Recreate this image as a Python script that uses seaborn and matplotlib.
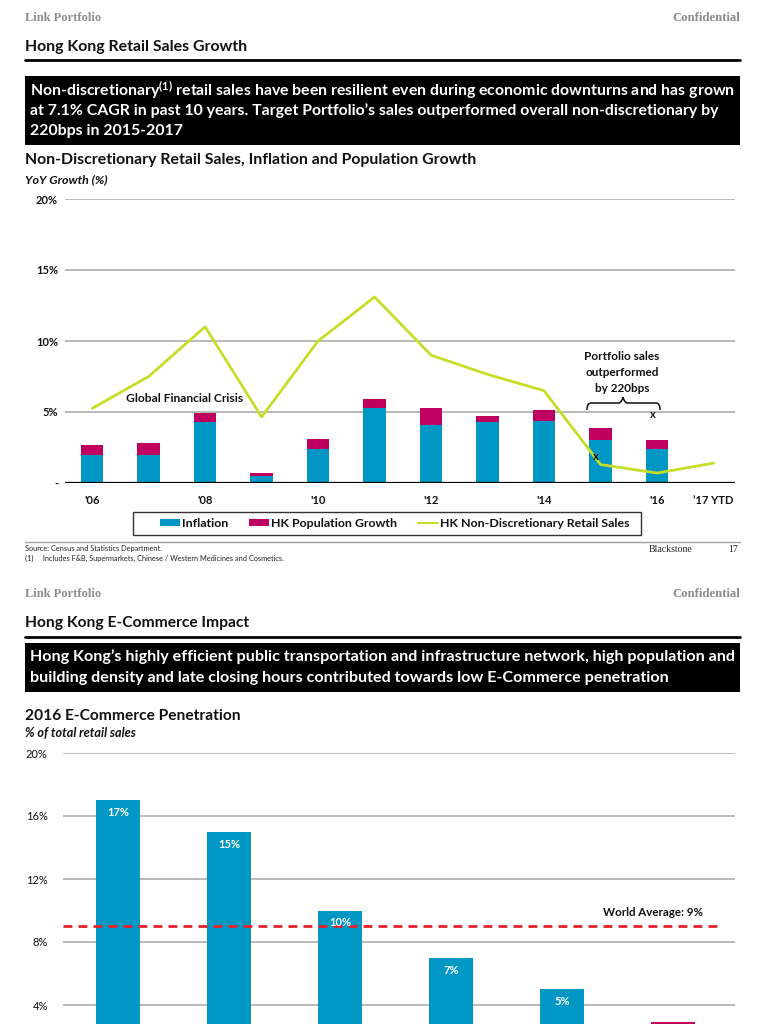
import numpy as np
import pandas as pd
import matplotlib
matplotlib.use("Agg")
import matplotlib.pyplot as plt
import seaborn as sns
from matplotlib.patches import Rectangle, Patch, PathPatch
from matplotlib.lines import Line2D
from matplotlib.path import Path

# ---------------- data ----------------
years = [2006, 2007, 2008, 2009, 2010, 2011, 2012, 2013, 2014, 2015, 2016, 2017]
inflation = [2.0, 2.0, 4.3, 0.5, 2.4, 5.3, 4.1, 4.3, 4.4, 3.0, 2.4, np.nan]
pop_growth = [0.65, 0.85, 0.6, 0.2, 0.7, 0.65, 1.2, 0.45, 0.75, 0.9, 0.6, np.nan]
retail_sales = [5.25, 7.5, 11.0, 4.65, 10.0, 13.1, 9.0, 7.65, 6.5, 1.3, 0.7, 1.4]
portfolio_years = [2015, 2016]
portfolio_sales = [1.9, 4.8]
tick_years = [2006, 2008, 2010, 2012, 2014, 2016, 2017]
tick_labels = ["'06", "'08", "'10", "'12", "'14", "'16", "\u201917 YTD"]
y1_ticks = [0, 5, 10, 15, 20]
y1_labels = ["-", "5%", "10%", "15%", "20%"]

countries = ["China", "UK", "South Korea", "US", "Japan", "Hong Kong"]
ecom_pen = [17, 15, 10, 7, 5, 2.9]
world_avg = 9
y2_ticks = [4, 8, 12, 16, 20]
y2_labels = ["4%", "8%", "12%", "16%", "20%"]

BLUE = "#0097C5"
PINK = "#C0005E"
LIME = "#C8DC28"
RED = "#E3222B"
GRID = "#A6A6A6"
INK = "#111111"

sns.set_theme(style="white")
SANS = ["Lato", "DejaVu Sans"]
SERIF = ["Liberation Serif", "DejaVu Serif"]
plt.rcParams["font.family"] = SANS
plt.rcParams["mathtext.fontset"] = "custom"
plt.rcParams["mathtext.rm"] = "Lato:bold"
plt.rcParams["mathtext.default"] = "rm"

W, H = 768, 1024
fig = plt.figure(figsize=(W / 100, H / 100), dpi=100)
fig.patch.set_facecolor("white")
renderer = fig.canvas.get_renderer()


def fx(x):
    return x / W


def fy(y):
    return 1 - y / H


def ftext(x, y, s, **kw):
    kw.setdefault("va", "center")
    return fig.text(fx(x), fy(y), s, **kw)


def fit(t, width_px):
    bb = t.get_window_extent(renderer)
    size = t.get_fontsize() * width_px / bb.width
    t.set_fontsize(size)
    return size


def size_for(s, width_px, **kw):
    t = fig.text(0, 0, s, fontsize=10, **kw)
    size = fit(t, width_px)
    t.remove()
    return size


def hline(y, x0=25, x1=740, **kw):
    fig.add_artist(Line2D([fx(x0), fx(x1)], [fy(y), fy(y)], transform=fig.transFigure, **kw))


def rect(x0, y0, x1, y1, **kw):
    fig.add_artist(Rectangle((fx(x0), fy(y1)), fx(x1) - fx(x0), fy(y0) - fy(y1),
                             transform=fig.transFigure, **kw))


def header(y, title):
    t = ftext(25, y, "Link Portfolio", family=SERIF, fontsize=8, color="#8C8C8C", fontweight="bold")
    fit(t, 75)
    t = ftext(740, y, "Confidential", family=SERIF, fontsize=8, color="#8C8C8C", fontweight="bold",
              ha="right")
    fit(t, 68)
    t = ftext(25, y + 29, title, fontsize=11, fontweight="bold", color=INK)
    fit(t, 223)


def box_lines(lines, y0, dy, first_width):
    sz = size_for(lines[0], first_width, fontweight="bold")
    for i, s in enumerate(lines):
        ftext(30, y0 + i * dy, s, fontsize=sz, fontweight="bold", color="white")


# ---------------- slide 1 ----------------
header(18, "Hong Kong Retail Sales Growth")
hline(60, color="black", lw=2)
rect(25, 76, 740, 145, facecolor="black", edgecolor="none")
box_lines(["Non-discretionary$^{(1)}$ retail sales have been resilient even during economic downturns and has grown",
           "at 7.1% CAGR in past 10 years. Target Portfolio\u2019s sales outperformed overall non-discretionary by",
           "220bps in 2015-2017"], 90, 20.5, 705)

t = ftext(25, 160, "Non-Discretionary Retail Sales, Inflation and Population Growth", fontsize=11,
          fontweight="bold", color=INK)
fit(t, 450)
t = ftext(25, 180, "YoY Growth (%)", fontsize=7.5, fontweight="bold", style="italic", color=INK)
fit(t, 82)

# ---------------- chart 1 ----------------
ax1 = fig.add_axes([fx(65), fy(483), fx(735) - fx(65), fy(199) - fy(483)])
df1 = pd.DataFrame({"year": years, "inflation": inflation,
                    "total": np.array(inflation) + np.array(pop_growth),
                    "retail": retail_sales})
sns.barplot(data=df1, x="year", y="total", native_scale=True, color=PINK, saturation=1,
            width=0.4, errorbar=None, linewidth=0, ax=ax1, zorder=2)
sns.barplot(data=df1, x="year", y="inflation", native_scale=True, color=BLUE, saturation=1,
            width=0.4, errorbar=None, linewidth=0, ax=ax1, zorder=3)
sns.lineplot(data=df1, x="year", y="retail", color=LIME, lw=2.0, ax=ax1, zorder=4)
for xv, yv in zip(portfolio_years, portfolio_sales):
    ax1.text(xv - 0.08, yv, "x", ha="center", va="center", fontsize=8, fontweight="bold",
             color=INK, zorder=5)

ax1.set_xlim(2005.52, 2017.38)
ax1.set_ylim(0, 20)
ax1.set_yticks(y1_ticks)
ax1.set_yticklabels(y1_labels)
ax1.set_xticks(tick_years)
ax1.set_xticklabels(tick_labels)
ax1.set_xlabel("")
ax1.set_ylabel("")
ax1.grid(axis="y", color=GRID, lw=1.1, zorder=0)
ax1.grid(axis="x", visible=False)
ax1.set_axisbelow(True)
ax1.axhline(0, color="black", lw=1.6, zorder=6)
for sp in ax1.spines.values():
    sp.set_visible(False)
ax1.tick_params(axis="both", length=0, labelsize=8)
ax1.tick_params(axis="y", pad=5)
ax1.tick_params(axis="x", pad=9)
for lab in ax1.get_xticklabels() + ax1.get_yticklabels():
    lab.set_fontweight("bold")
    lab.set_color(INK)

t = ftext(185, 399, "Global Financial Crisis", ha="center", fontsize=8, fontweight="bold", color=INK)
fit(t, 118)
psz = size_for("Portfolio sales", 75, fontweight="bold")
for i, s in enumerate(["Portfolio sales", "outperformed", "by 220bps"]):
    ftext(622, 356 + i * 16, s, ha="center", fontsize=psz, fontweight="bold", color=INK)

# curly brace (pixel coords -> figure)
bx0, bx1, bmid, by0, by1 = 587, 660, 623, 410, 397
verts = [(bx0, by0), (bx0, 403), (bx0 + 4, 403),
         (bmid - 4, 403), (bmid - 4, 403), (bmid - 1, 402), (bmid, by1),
         (bmid, by1), (bmid, by1), (bmid + 1, 402), (bmid + 4, 403),
         (bx1 - 4, 403), (bx1 - 4, 403), (bx1, 403), (bx1, by0)]
codes = [Path.MOVETO, Path.CURVE3, Path.CURVE3,
         Path.LINETO, Path.LINETO, Path.CURVE3, Path.CURVE3,
         Path.MOVETO, Path.LINETO, Path.CURVE3, Path.CURVE3,
         Path.LINETO, Path.LINETO, Path.CURVE3, Path.CURVE3]
fverts = [(fx(a), fy(b)) for a, b in verts]
fig.add_artist(PathPatch(Path(fverts, codes), transform=fig.transFigure, fill=False,
                         edgecolor=INK, lw=1.1))

# legend
lsz = size_for("HK Non-Discretionary Retail Sales", 190, fontweight="bold")
lpx = lsz * 100 / 72
rect(133, 512, 641, 535, facecolor="white", edgecolor="#333333", lw=1.0)
handles = [Patch(facecolor=BLUE, edgecolor="none"), Patch(facecolor=PINK, edgecolor="none"),
           Line2D([], [], color=LIME, lw=1.5)]
leg = fig.legend(handles, ["Inflation", "HK Population Growth", "HK Non-Discretionary Retail Sales"],
                 loc="center left", bbox_to_anchor=(fx(160), fy(523.5)), ncol=3, frameon=False,
                 handlelength=20 / lpx, handleheight=0.55, handletextpad=2 / lpx,
                 columnspacing=21 / lpx, borderpad=0, borderaxespad=0,
                 prop={"weight": "bold", "size": lsz})
for txt in leg.get_texts():
    txt.set_color(INK)

# footer
hline(542, color="#A0A0A0", lw=1)
ftext(25, 548, "Source: Census and Statistics Department.", fontsize=5.3, color="#222222")
ftext(25, 558, "(1)     Includes F&B, Supermarkets, Chinese / Western Medicines and Cosmetics.", fontsize=5.3,
      color="#222222")
ftext(692, 550, "Blackstone", family=SERIF, fontsize=7, color="#222222", ha="right")
ftext(738, 550, "17", family=SERIF, fontsize=7, color="#222222", ha="right")

# ---------------- slide 2 ----------------
header(594, "Hong Kong E-Commerce Impact")
hline(637, color="black", lw=2)
rect(25, 643, 740, 692, facecolor="black", edgecolor="none")
box_lines(["Hong Kong\u2019s highly efficient public transportation and infrastructure network, high population and",
           "building density and late closing hours contributed towards low E-Commerce penetration"],
          657, 21, 705)
t = ftext(25, 716, "2016 E-Commerce Penetration", fontsize=11, fontweight="bold", color=INK)
fit(t, 215)
t = ftext(25, 733, "% of total retail sales", fontsize=7.5, fontweight="bold", style="italic", color=INK)
fit(t, 110)

# ---------------- chart 2 ----------------
ax2 = fig.add_axes([fx(63), fy(1068), fx(735) - fx(63), fy(753) - fy(1068)])
df2 = pd.DataFrame({"country": countries, "pen": ecom_pen})
pal = [BLUE] * (len(countries) - 1) + [PINK]
sns.barplot(data=df2, x="country", y="pen", hue="country", palette=pal, legend=False,
            saturation=1, width=0.4, errorbar=None, linewidth=0, ax=ax2, zorder=2)
ax2.axhline(world_avg, xmax=0.978, color=RED, ls=(0, (3.2, 2.2)), lw=2, zorder=3)
bsz = size_for("17%", 22, fontweight="bold")
for i, v in enumerate(ecom_pen[:-1]):
    ax2.text(i, v - 0.78, f"{v:.0f}%", ha="center", va="center", color="white",
             fontsize=bsz, fontweight="bold", zorder=4)
t = ax2.text(4.82, world_avg + 0.85, f"World Average: {world_avg}%", ha="center", va="center",
             fontsize=8, fontweight="bold", color=INK)
fit(t, 100)
ax2.set_xlim(-0.495, 5.56)
ax2.set_ylim(0, 20)
ax2.set_yticks(y2_ticks)
ax2.set_yticklabels(y2_labels)
ax2.set_xlabel("")
ax2.set_ylabel("")
ax2.grid(axis="y", color=GRID, lw=1.1, zorder=0)
ax2.grid(axis="x", visible=False)
ax2.set_axisbelow(True)
for sp in ax2.spines.values():
    sp.set_visible(False)
ax2.tick_params(axis="both", length=0, labelsize=8)
ax2.tick_params(axis="x", labelbottom=False)
ax2.tick_params(axis="y", pad=11)
for lab in ax2.get_yticklabels():
    lab.set_color(INK)

fig.savefig("out.png", dpi=100, facecolor="white")
